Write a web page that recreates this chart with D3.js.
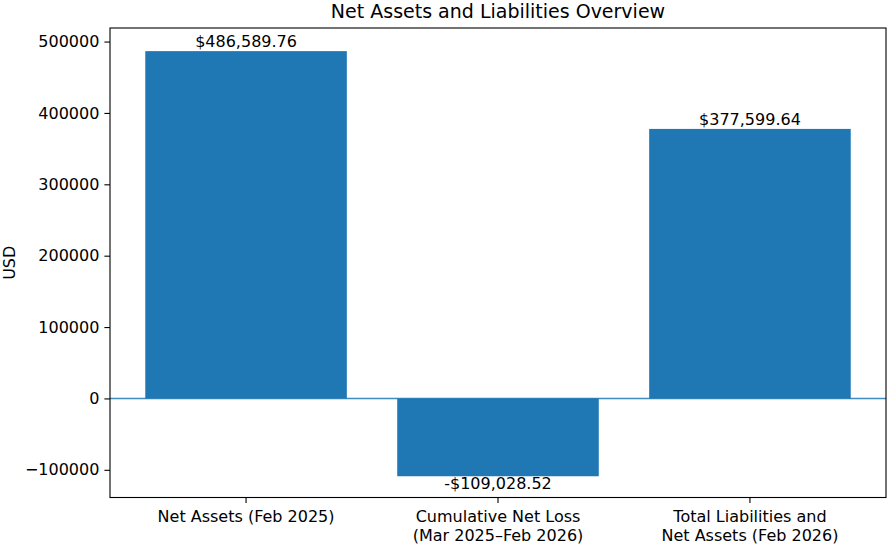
<!DOCTYPE html>
<html>
<head>
<meta charset="utf-8">
<script src="https://cdn.jsdelivr.net/npm/d3@7"></script>
<style>
  body { margin: 0; background: #fff; }
  text { font-family: "DejaVu Sans", sans-serif; fill: #000; }
</style>
</head>
<body>
<div id="chart"></div>
<script>
// categories (multi-line labels split on \n)
const categories = [
  "Net Assets (Feb 2025)",
  "Cumulative Net Loss\n(Mar 2025\u2013Feb 2026)",
  "Total Liabilities and\nNet Assets (Feb 2026)"
];
const values = [486589.76, -109028.52, 377599.64];
const yTicks = [-100000, 0, 100000, 200000, 300000, 400000, 500000];
const yLimits = [-138800, 519000];

const chartTitle = "Net Assets and Liabilities Overview";
const yLabel = "USD";

const W = 887, H = 546;
const margin = { top: 28, right: 1, bottom: 48.5, left: 110 };
const barColor = "#1f77b4";
const fontSize = "16px";

const svg = d3.select("#chart").append("svg")
  .attr("width", W)
  .attr("height", H);

const x = d3.scaleBand()
  .domain(categories)
  .range([margin.left, W - margin.right])
  .paddingInner(0.2)
  .paddingOuter(0.14);

const y = d3.scaleLinear()
  .domain(yLimits)
  .range([H - margin.bottom, margin.top]);

// bars
svg.append("g").selectAll("rect")
  .data(values)
  .join("rect")
  .attr("x", (d, i) => x(categories[i]))
  .attr("width", x.bandwidth())
  .attr("y", d => y(Math.max(0, d)))
  .attr("height", d => Math.abs(y(d) - y(0)))
  .attr("fill", barColor);

// zero line
svg.append("line")
  .attr("x1", margin.left)
  .attr("x2", W - margin.right)
  .attr("y1", y(0))
  .attr("y2", y(0))
  .attr("stroke", barColor)
  .attr("stroke-opacity", 0.85)
  .attr("stroke-width", 1.4);

// value labels
const fmt = v => (v < 0 ? "-$" : "$") + d3.format(",.2f")(Math.abs(v));
svg.append("g").selectAll("text")
  .data(values)
  .join("text")
  .attr("x", (d, i) => x(categories[i]) + x.bandwidth() / 2)
  .attr("y", d => d >= 0 ? y(d) - 3.8 : y(d) + 13)
  .attr("text-anchor", "middle")
  .style("font-size", fontSize)
  .text(fmt);

// y axis
const yAxis = svg.append("g")
  .attr("transform", `translate(${margin.left},0)`)
  .call(d3.axisLeft(y)
    .tickValues(yTicks)
    .tickFormat(d => d < 0 ? "\u2212" + Math.abs(d) : String(d))
    .tickSize(5.6)
    .tickPadding(5)
    .tickSizeOuter(0));
yAxis.select(".domain").remove();
yAxis.selectAll("line").attr("stroke", "#000").attr("stroke-width", 1.1);
yAxis.selectAll("text")
  .style("font-size", fontSize)
  .style("font-family", "DejaVu Sans, sans-serif")
  .attr("fill", "#000");

// x axis
const xAxis = svg.append("g")
  .attr("transform", `translate(0,${H - margin.bottom})`)
  .call(d3.axisBottom(x).tickSize(5.6).tickSizeOuter(0).tickFormat(""));
xAxis.select(".domain").remove();
xAxis.selectAll("line").attr("stroke", "#000").attr("stroke-width", 1.1);
xAxis.selectAll(".tick").each(function (d) {
  const t = d3.select(this).append("text")
    .attr("text-anchor", "middle")
    .attr("fill", "#000")
    .style("font-size", fontSize)
    .style("font-family", "DejaVu Sans, sans-serif");
  d.split("\n").forEach((line, i) => {
    t.append("tspan").attr("x", 0).attr("y", 24.2 + i * 19).text(line);
  });
});

// frame
svg.append("rect")
  .attr("x", margin.left)
  .attr("y", margin.top)
  .attr("width", W - margin.right - margin.left)
  .attr("height", H - margin.bottom - margin.top)
  .attr("fill", "none")
  .attr("stroke", "#000")
  .attr("stroke-width", 1.1);

// title
svg.append("text")
  .attr("x", (margin.left + W - margin.right) / 2)
  .attr("y", 18)
  .attr("text-anchor", "middle")
  .style("font-size", "19px")
  .text(chartTitle);

// y label
svg.append("text")
  .attr("transform", `translate(15,${(margin.top + H - margin.bottom) / 2}) rotate(-90)`)
  .attr("text-anchor", "middle")
  .style("font-size", fontSize)
  .text(yLabel);
</script>
</body>
</html>
